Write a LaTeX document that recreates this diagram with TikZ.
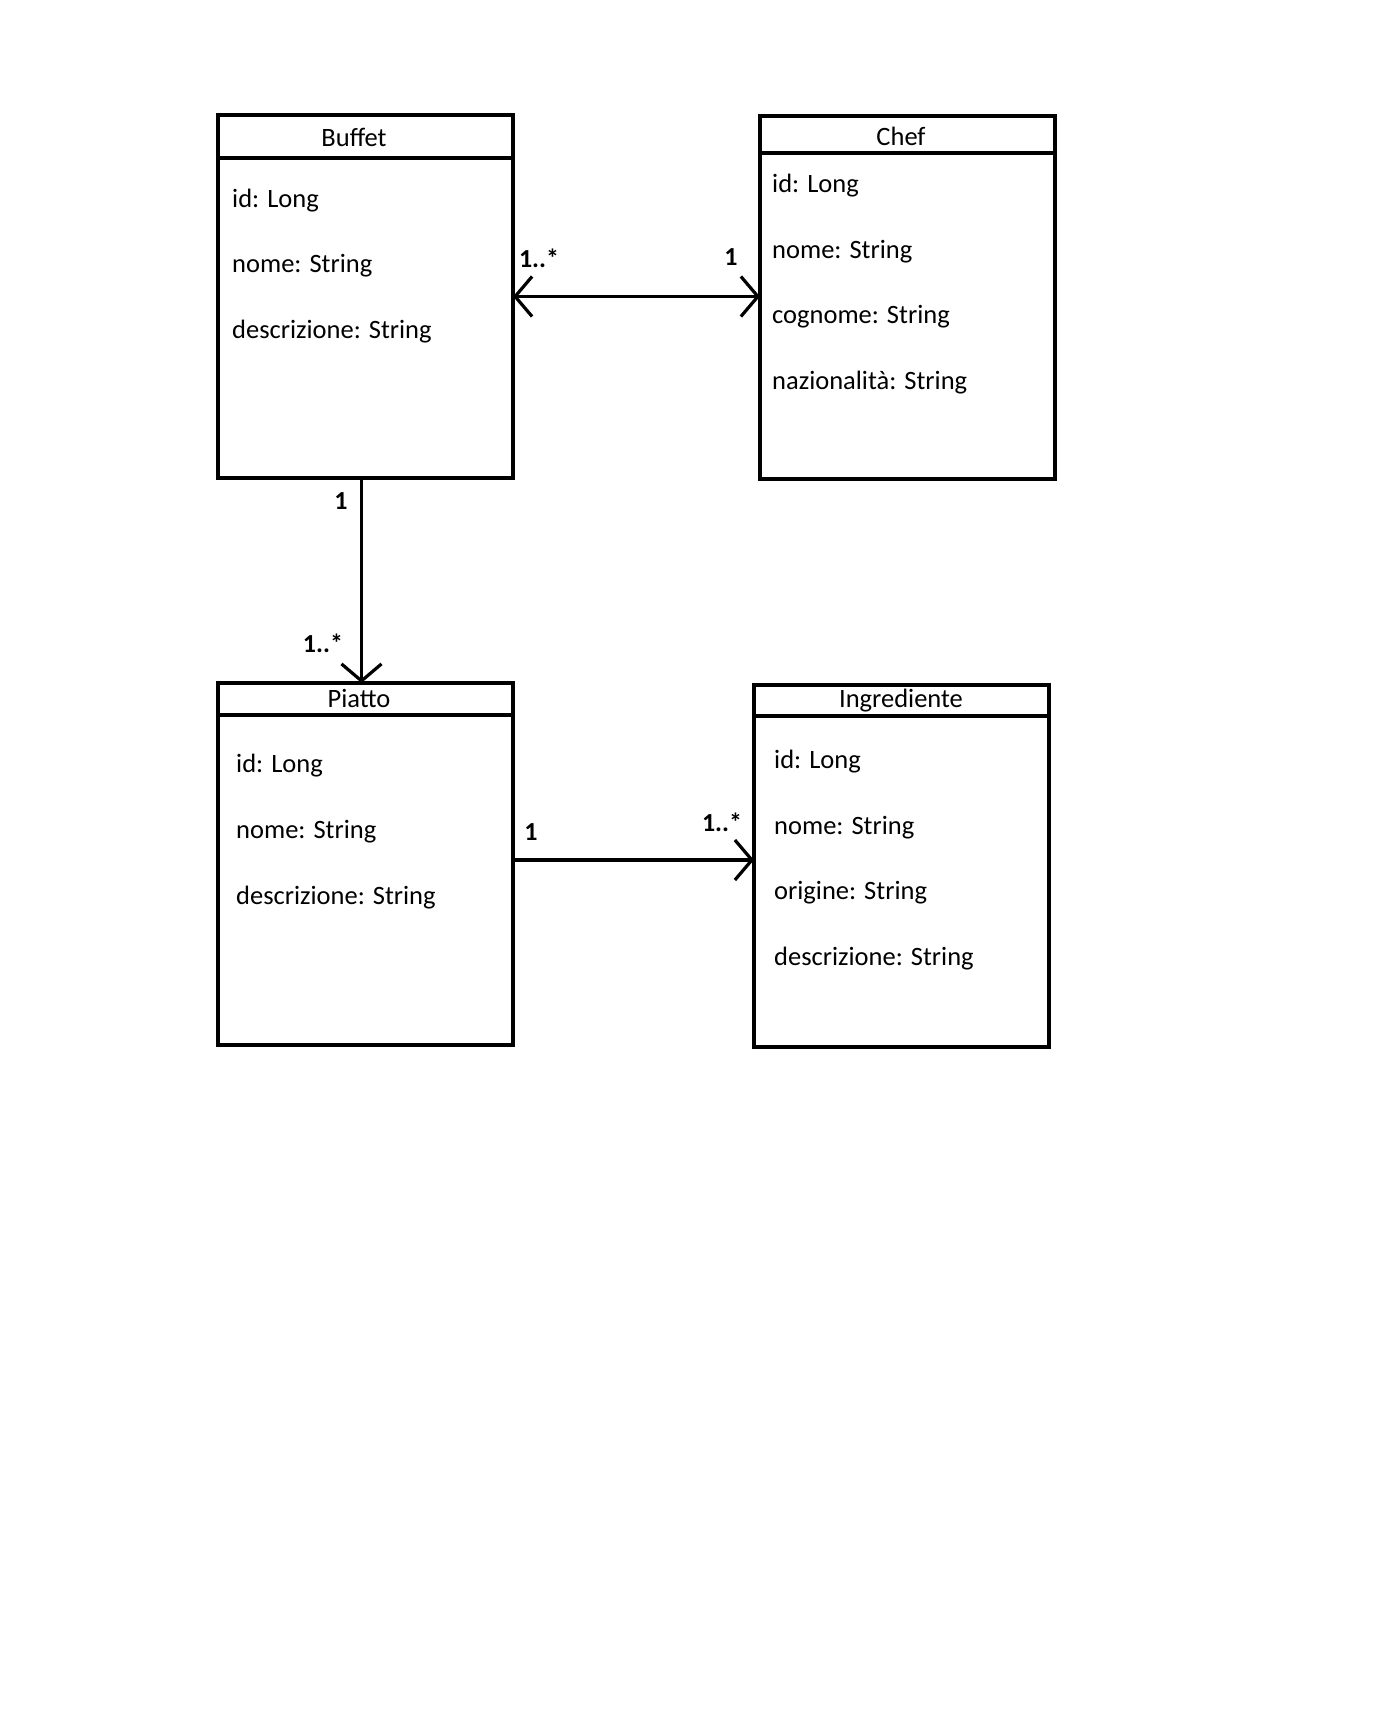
\documentclass[tikz,border=0pt]{standalone}
\usepackage{fontspec}
\setmainfont{Carlito}
\usetikzlibrary{arrows.meta}
\begin{document}
\begin{tikzpicture}[x=1pt, y=-1pt,
    classbox/.style={draw, line width=3.2pt, rectangle, anchor=north west, inner sep=0pt, outer sep=0pt, minimum width=295pt, minimum height=362pt},
    rule/.style={line width=3.2pt},
    link/.style={line width=3.2pt},
    attr/.style={anchor=west, inner sep=0pt, font=\fontsize{26.5}{32}\selectfont},
    title/.style={inner sep=0pt, font=\fontsize{26.5}{32}\selectfont},
    mult/.style={inner sep=0pt, font=\bfseries\fontsize{26}{31}\selectfont},
    barb/.tip={Straight Barb[length=17pt,width=40pt]}]
    \useasboundingbox (0,0) rectangle (1394,1712);

    % Buffet
    \node (buffet) at (218,115) [classbox, minimum height=363pt] {};
    \draw[rule] ([yshift=-43pt]buffet.north west) -- ([yshift=-43pt]buffet.north east);
    \node (buffetT) at (354,137) [title] {Buffet};
    \foreach \t [count=\i from 0] in {id: Long, nome: String, descrizione: String}
        \node (buffetA\i) at (232,200.5+65.5*\i) [attr] {\t};

    % Chef
    \node (chef) at (760,116) [classbox, minimum height=363pt] {};
    \draw[rule] ([yshift=-37pt]chef.north west) -- ([yshift=-37pt]chef.north east);
    \node (chefT) at (901,136) [title] {Chef};
    \foreach \t [count=\i from 0] in {id: Long, nome: String, cognome: String, nazionalità: String}
        \node (chefA\i) at (772,185.5+65.8*\i) [attr] {\t};

    % Piatto
    \node (piatto) at (218,683) [classbox] {};
    \draw[rule] ([yshift=-32pt]piatto.north west) -- ([yshift=-32pt]piatto.north east);
    \node (piattoT) at (359,698) [title] {Piatto};
    \foreach \t [count=\i from 0] in {id: Long, nome: String, descrizione: String}
        \node (piattoA\i) at (236,766+66*\i) [attr] {\t};

    % Ingrediente
    \node (ingrediente) at (754,685) [classbox] {};
    \draw[rule] ([yshift=-31pt]ingrediente.north west) -- ([yshift=-31pt]ingrediente.north east);
    \node (ingredienteT) at (901,701) [title] {Ingrediente};
    \foreach \t [count=\i from 0] in {id: Long, nome: String, origine: String, descrizione: String}
        \node (ingredienteA\i) at (774,761.5+65.8*\i) [attr] {\t};

    % Associations
    \draw[link, barb-barb] (buffet.east) -- (buffet.east -| chef.west);
    \draw[link, -barb] ([xshift=-4pt]buffet.south) -- ([xshift=-4pt]piatto.north);
    \draw[link, -barb] ([yshift=4pt]piatto.east) -- ([yshift=4pt]piatto.east -| ingrediente.west);

    % Multiplicities
    \node (m1) at (539,258) [mult] {1..*};
    \node (m2) at (731,257) [mult] {1};
    \node (m3) at (341,501) [mult] {1};
    \node (m4) at (323,643) [mult] {1..*};
    \node (m5) at (531,832) [mult] {1};
    \node (m6) at (722,822) [mult] {1..*};
\end{tikzpicture}
\end{document}
